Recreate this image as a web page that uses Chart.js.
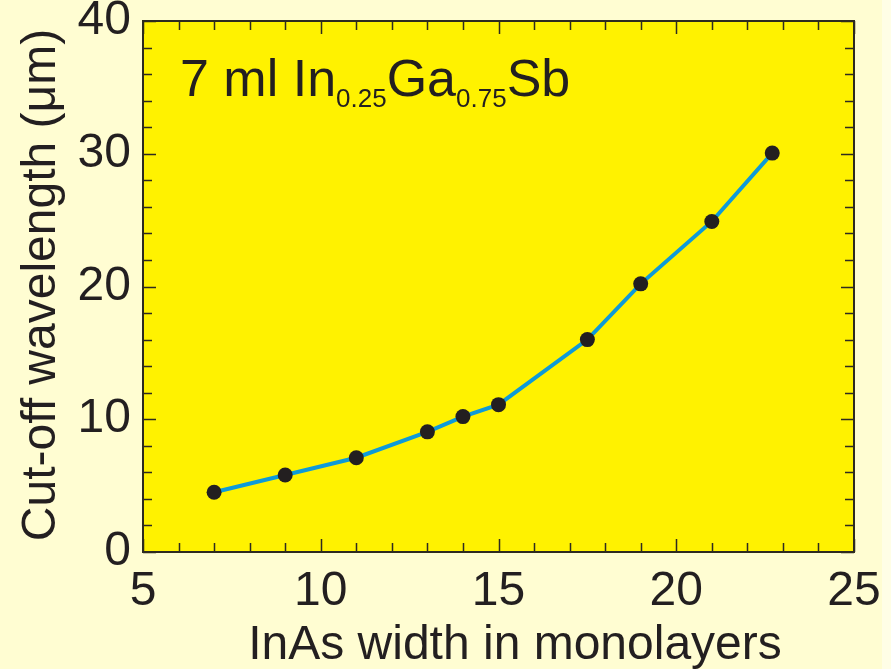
<!DOCTYPE html>
<html>
<head>
<meta charset="utf-8">
<title>Cut-off wavelength vs InAs width</title>
<script src="https://cdn.jsdelivr.net/npm/chart.js@4.4.1/dist/chart.umd.min.js"></script>
<style>
    html, body { margin: 0; padding: 0; background: #fffdd2; }
    #wrap { width: 891px; height: 669px; }
</style>
</head>
<body>
<div id="wrap"><canvas id="cutoffChart" width="891" height="669"></canvas></div>
<script>
// InAs layer width (monolayers) and measured cut-off wavelength (um)
const inasWidth = [7, 9, 11, 13, 14, 15, 17.5, 19, 21, 22.7];
const cutoffWavelength = [4.5, 5.8, 7.1, 9.05, 10.2, 11.1, 16.0, 20.2, 24.9, 30.05];

const xTicks = [5, 10, 15, 20, 25];
const yTicks = [0, 10, 20, 30, 40];
const xMinorStep = 1;
const yMinorStep = 2;

const TEXT = '#231f20';
const FONT = '"Liberation Sans", Arial, sans-serif';

// background, inward ticks on all four sides, frame
const framePlugin = {
    id: 'frame',
    beforeDraw(chart) {
        const { ctx, chartArea: a } = chart;
        ctx.save();
        ctx.fillStyle = '#fffdd2';
        ctx.fillRect(0, 0, chart.width, chart.height);
        ctx.fillStyle = '#fffee6';
        ctx.fillRect(882, 0, chart.width - 882, chart.height);
        ctx.fillStyle = '#fff200';
        ctx.fillRect(a.left, a.top, a.right - a.left, a.bottom - a.top);
        ctx.restore();
    },
    beforeDatasetsDraw(chart) {
        const { ctx, chartArea: a, scales } = chart;
        const xs = scales.x, ys = scales.y;
        ctx.save();
        ctx.strokeStyle = '#2e2b1f';
        ctx.lineWidth = 1.5;
        ctx.beginPath();
        for (let v = xs.min; v <= xs.max + 1e-9; v += xMinorStep) {
            const px = Math.round(xs.getPixelForValue(v)) + 0.5;
            const len = xTicks.includes(v) ? 13 : 9;
            ctx.moveTo(px, a.bottom); ctx.lineTo(px, a.bottom - len);
            ctx.moveTo(px, a.top); ctx.lineTo(px, a.top + len);
        }
        for (let v = ys.min; v <= ys.max + 1e-9; v += yMinorStep) {
            const py = Math.round(ys.getPixelForValue(v)) + 0.5;
            const len = yTicks.includes(v) ? 13 : 9;
            ctx.moveTo(a.left, py); ctx.lineTo(a.left + len, py);
            ctx.moveTo(a.right, py); ctx.lineTo(a.right - len, py);
        }
        ctx.stroke();
        ctx.lineWidth = 2;
        ctx.strokeRect(a.left, a.top, a.right - a.left, a.bottom - a.top);
        ctx.restore();
    },
    afterDraw(chart) {
        const { ctx } = chart;
        ctx.save();
        ctx.fillStyle = TEXT;
        ctx.textBaseline = 'alphabetic';

        // axis titles
        ctx.font = '48px ' + FONT;
        ctx.textAlign = 'center';
        ctx.fillText('InAs width in monolayers', 515, 659);
        ctx.save();
        ctx.translate(55, 285);
        ctx.rotate(-Math.PI / 2);
        ctx.fillText('Cut-off wavelength (\u03bcm)', 0, 0);
        ctx.restore();

        // sample label with subscripts
        ctx.textAlign = 'left';
        const parts = [
            ['7 ml In', 52, 96],
            ['0.25', 26, 107],
            ['Ga', 52, 96],
            ['0.75', 26, 107],
            ['Sb', 52, 96]
        ];
        let x = 180;
        parts.forEach(([txt, size, base]) => {
            ctx.font = size + 'px ' + FONT;
            ctx.fillText(txt, x, base);
            x += ctx.measureText(txt).width;
        });
        ctx.restore();
    }
};

new Chart(document.getElementById('cutoffChart').getContext('2d'), {
    type: 'scatter',
    data: {
        datasets: [{
            data: inasWidth.map((w, i) => ({ x: w, y: cutoffWavelength[i] })),
            showLine: true,
            borderColor: '#0e9ad8',
            borderWidth: 4,
            pointRadius: 7.5,
            pointHoverRadius: 7.5,
            pointBackgroundColor: '#231f20',
            pointBorderWidth: 0,
            tension: 0
        }]
    },
    options: {
        responsive: false,
        animation: false,
        layout: { padding: { top: 21, right: 37, left: 0, bottom: 0 } },
        plugins: { legend: { display: false }, tooltip: { enabled: false } },
        scales: {
            x: {
                type: 'linear',
                min: 5,
                max: 25,
                afterFit: s => { s.height = 117; s.paddingLeft = 0; s.paddingRight = 0; },
                afterBuildTicks: s => { s.ticks = xTicks.map(v => ({ value: v })); },
                grid: { display: false, drawTicks: false },
                border: { display: false },
                ticks: { color: TEXT, font: { size: 48, family: FONT }, padding: 11, maxRotation: 0, autoSkip: false }
            },
            y: {
                min: 0,
                max: 40,
                afterFit: s => { s.width = 143; s.paddingTop = 0; s.paddingBottom = 0; },
                afterBuildTicks: s => { s.ticks = yTicks.map(v => ({ value: v })); },
                grid: { display: false, drawTicks: false },
                border: { display: false },
                ticks: { color: TEXT, font: { size: 48, family: FONT }, padding: 12 }
            }
        }
    },
    plugins: [framePlugin]
});
</script>
</body>
</html>
